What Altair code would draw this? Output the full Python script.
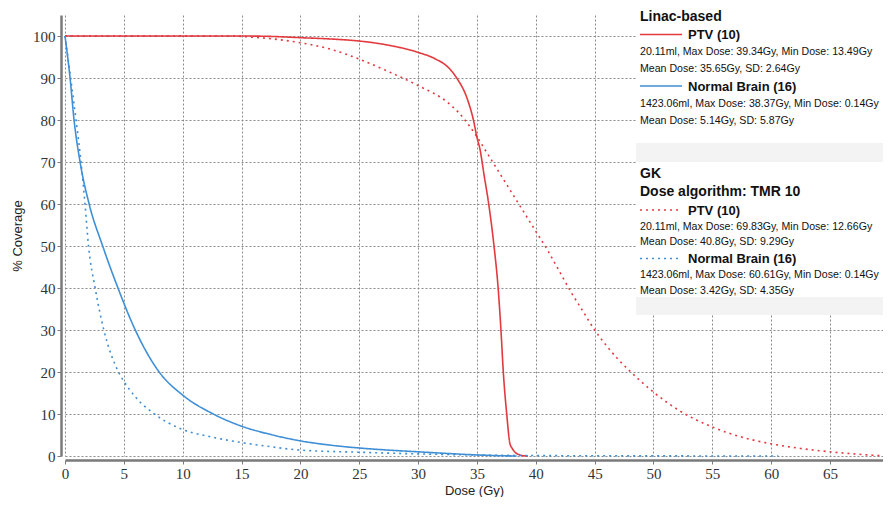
import altair as alt
import pandas as pd

# ---- data ----
linac_ptv_dose = [0, 15, 17.5, 20, 22.5, 25, 27.5, 30, 31.5, 32.57, 33.28, 34.13, 34.7, 35.0, 35.26,
                  35.6, 36.0, 36.45, 36.8, 37.04, 37.24, 37.53, 37.8, 38.0, 38.2, 38.6, 39.0, 39.34]
linac_ptv_cov = [100, 100, 99.9, 99.6, 99.3, 98.8, 97.8, 96.1, 94.5, 92.5, 90, 85.4, 80, 75.9, 73,
                 67, 60, 50, 40, 30, 20, 10, 3, 1.8, 1, 0.3, 0.05, 0]

gk_ptv_dose = [0, 14, 16, 18, 20, 22.5, 25, 27.5, 30, 32.5, 33.5, 34.2, 35, 36, 37, 38, 39, 40, 41,
               42, 43, 44, 45, 46, 47, 48, 50, 52.5, 55, 57.5, 60, 62.5, 65, 67.5, 69.83]
gk_ptv_cov = [100, 100, 99.7, 99.2, 98.4, 96.9, 94.5, 91.5, 88.2, 84.2, 81.6, 79.2, 76, 71.5, 67,
              62.5, 58, 53.5, 49, 44, 39, 34.5, 30, 26.3, 23, 20.2, 15.2, 10.3, 6.9, 4.5, 2.9, 1.8,
              1.0, 0.4, 0]

linac_brain_dose = [0, 0.43, 0.77, 1.28, 2.05, 3.2, 4.5, 5.97, 8.0, 10, 12.6, 15, 17.5, 20, 22.5,
                    25, 27.5, 30, 32.5, 35, 36.5, 38.37]
linac_brain_cov = [100, 90, 80, 70, 60, 50, 40, 30, 20, 14.5, 10, 7.1, 5.1, 3.6, 2.6,
                   1.9, 1.4, 1.0, 0.6, 0.25, 0.1, 0]

gk_brain_dose = [0, 0.48, 0.94, 1.36, 1.7, 2.0, 2.56, 3.3, 4.55, 5, 6, 7.6, 10, 12.5, 15, 17.5,
                 20, 25, 30, 35, 40, 50, 60.61]
gk_brain_cov = [100, 90, 80, 70, 60, 50, 40, 30, 20, 17.8, 14, 10, 6.3, 4.5, 3.2, 2.2,
                1.4, 0.9, 0.5, 0.25, 0.1, 0.03, 0]

x_ticks = [0, 5, 10, 15, 20, 25, 30, 35, 40, 45, 50, 55, 60, 65]
y_ticks = [0, 10, 20, 30, 40, 50, 60, 70, 80, 90, 100]

RED = "#e23a3f"
BLUE = "#3f8fd6"

frames = []
for name, d, c in [("Linac PTV", linac_ptv_dose, linac_ptv_cov),
                   ("GK PTV", gk_ptv_dose, gk_ptv_cov),
                   ("Linac Brain", linac_brain_dose, linac_brain_cov),
                   ("GK Brain", gk_brain_dose, gk_brain_cov)]:
    frames.append(pd.DataFrame({"dose": d, "cov": c, "series": name}))
df = pd.concat(frames, ignore_index=True)

series_order = ["Linac PTV", "GK PTV", "Linac Brain", "GK Brain"]

x_enc = alt.X("dose:Q", scale=alt.Scale(domain=[0, 69.5], nice=False, zero=False),
              axis=alt.Axis(values=x_ticks, title="Dose (Gy)", offset=4, labelFlush=False))
y_enc = alt.Y("cov:Q", scale=alt.Scale(domain=[0, 105], nice=False),
              axis=alt.Axis(values=y_ticks, title="% Coverage", offset=4, labelFlush=False))

lines = alt.Chart(df).mark_line(strokeWidth=1.6, interpolate="monotone").encode(
    x=x_enc, y=y_enc,
    color=alt.Color("series:N", scale=alt.Scale(domain=series_order, range=[RED, RED, BLUE, BLUE]), legend=None),
    strokeDash=alt.StrokeDash("series:N", scale=alt.Scale(domain=series_order,
                              range=[[1, 0], [2, 4], [1, 0], [2, 4]]), legend=None),
    detail="series:N",
)

# ---- legend panel (pixel positions relative to plot origin) ----
def rect(x1, x2, y1, y2, col):
    return alt.Chart(pd.DataFrame({"a": [0]})).mark_rect(color=col).encode(
        x=alt.value(x1), x2=alt.value(x2), y=alt.value(y1), y2=alt.value(y2))

def txt(s, x, y, size=10.6, bold=False):
    return alt.Chart(pd.DataFrame({"a": [0]})).mark_text(
        align="left", baseline="middle", font="Liberation Sans", fontSize=size,
        fontWeight="bold" if bold else "normal", color="#111").encode(
        x=alt.value(x), y=alt.value(y), text=alt.value(s))

def seg(x1, x2, y, col, dash):
    return alt.Chart(pd.DataFrame({"a": [0]})).mark_rule(color=col, strokeWidth=1.6, strokeDash=dash).encode(
        x=alt.value(x1), x2=alt.value(x2), y=alt.value(y))

LX = 575
layers = [
    lines,
    rect(571, 818, -15, 128, "#ffffff"),
    rect(571, 818, 128, 300, "#f3f3f3"),
    rect(571, 818, 147, 282, "#ffffff"),
    txt("Linac-based", LX, 2, 14, True),
    seg(LX, 617, 19.5, RED, [1, 0]),
    txt("PTV (10)", 623, 20, 13, True),
    txt("20.11ml, Max Dose: 39.34Gy, Min Dose: 13.49Gy", LX, 37),
    txt("Mean Dose: 35.65Gy, SD: 2.64Gy", LX, 53.5),
    seg(LX, 617, 71, BLUE, [1, 0]),
    txt("Normal Brain (16)", 623, 71.5, 13, True),
    txt("1423.06ml, Max Dose: 38.37Gy, Min Dose: 0.14Gy", LX, 89),
    txt("Mean Dose: 5.14Gy, SD: 5.87Gy", LX, 105.5),
    txt("GK", LX, 158.5, 14, True),
    txt("Dose algorithm: TMR 10", LX, 177, 14, True),
    seg(LX, 617, 195, RED, [2, 4]),
    txt("PTV (10)", 623, 195.5, 13, True),
    txt("20.11ml, Max Dose: 69.83Gy, Min Dose: 12.66Gy", LX, 211.5),
    txt("Mean Dose: 40.8Gy, SD: 9.29Gy", LX, 226.5),
    seg(LX, 617, 243.5, BLUE, [2, 4]),
    txt("Normal Brain (16)", 623, 244, 13, True),
    txt("1423.06ml, Max Dose: 60.61Gy, Min Dose: 0.14Gy", LX, 260),
    txt("Mean Dose: 3.42Gy, SD: 4.35Gy", LX, 276),
]

chart = alt.layer(*layers).properties(
    width=818, height=441,
    autosize=alt.AutoSizeParams(type="none"),
    padding={"left": 57, "top": 7, "right": 0, "bottom": 41},
    background="white",
).configure_view(stroke=None).configure_axis(
    grid=True, gridColor="#8a8a8a", gridDash=[2, 2], gridWidth=1,
    domainColor="#7a7a7a", domainWidth=2.5, tickColor="#7a7a7a", tickSize=4,
    labelFont="Liberation Serif", labelFontSize=15, labelColor="#333",
    titleFont="Liberation Sans", titleFontSize=13, titleFontWeight="normal", titleColor="#222",
    labelPadding=2,
).configure_axisX(titlePadding=3).configure_axisY(titlePadding=8)

chart.save("out.html", embed_options={"renderer": "svg", "actions": False})
